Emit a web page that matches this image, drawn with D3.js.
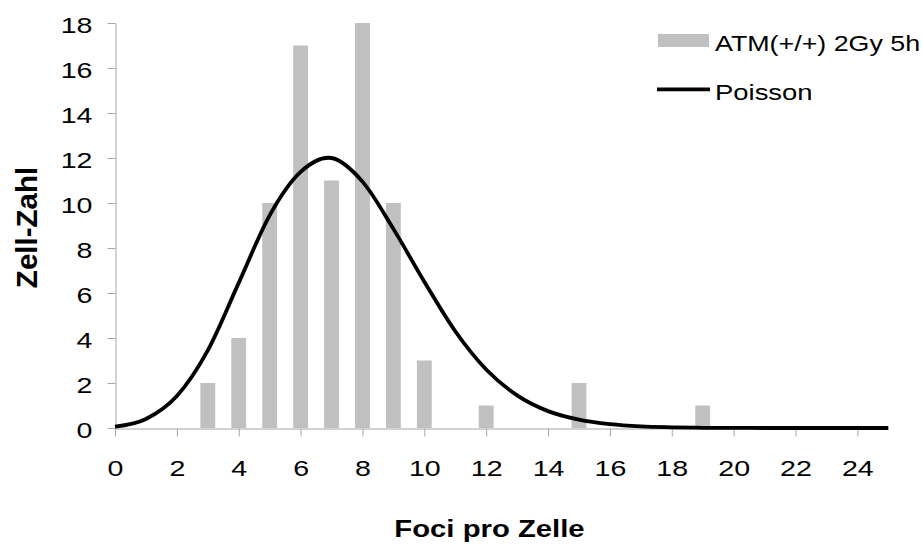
<!DOCTYPE html>
<html><head><meta charset="utf-8">
<script src="https://cdn.jsdelivr.net/npm/d3@7"></script>
<style>body{margin:0;background:#fff}svg{display:block}</style>
</head><body>
<svg id="chart" width="923" height="545"></svg>
<script>
// ---- data ----
const foci = [3, 4, 5, 6, 7, 8, 9, 10, 12, 15, 19];
const cellCounts = [2, 4, 10, 17, 11, 18, 10, 3, 1, 2, 1];
const poissonX = [0,1,2,3,4,5,6,7,8,9,10,11,12,13,14,15,16,17,18,19,20,21,22,23,24,25];
const poissonY = [0.06,0.40,1.42,3.45,6.45,9.45,11.38,12.0,10.95,8.85,6.5,4.3,2.6,1.45,0.75,0.37,0.17,0.07,0.03,0.01,0.004,0.001,0,0,0,0];
const xTickValues = [0,2,4,6,8,10,12,14,16,18,20,22,24];
const yTickValues = [0,2,4,6,8,10,12,14,16,18];
const seriesNames = ["ATM(+/+) 2Gy 5h", "Poisson"];
const xTitle = "Foci pro Zelle";
const yTitle = "Zell-Zahl";

// ---- layout ----
const FONT = "'Liberation Sans', Arial, sans-serif";
const svg = d3.select("#chart");
const x = d3.scaleLinear().domain([0, 25]).range([115, 888.3]);
const y = d3.scaleLinear().domain([0, 18]).range([428, 23]);
const axisColor = "#a6a6a6";
const barColor = "#c0c0c0";
const tickSX = 1.3;

// bars
const barW = x(0.48) - x(0);
svg.append("g").selectAll("rect")
  .data(foci.map((f, i) => ({f, v: cellCounts[i]})))
  .join("rect")
  .attr("x", d => x(d.f) - barW / 2)
  .attr("y", d => y(d.v))
  .attr("width", barW)
  .attr("height", d => y(0) - y(d.v))
  .attr("fill", barColor);

// y axis
const yAxis = svg.append("g")
  .attr("transform", `translate(${x(0) + 0.5},0)`)
  .call(d3.axisLeft(y).tickValues(yTickValues).tickFormat(d3.format("d")).tickSize(8).tickSizeOuter(0));
yAxis.select(".domain").attr("stroke", axisColor);
yAxis.selectAll(".tick line").attr("stroke", axisColor);
yAxis.selectAll(".tick text")
  .attr("x", -23 / tickSX)
  .attr("dy", "0.43em")
  .attr("transform", `scale(${tickSX},1)`)
  .attr("fill", "#000")
  .style("font-family", FONT).style("font-size", "22px");

// x axis
const xAxis = svg.append("g")
  .attr("transform", `translate(0,${y(0) + 0.5})`)
  .call(d3.axisBottom(x).tickValues(xTickValues).tickFormat(d3.format("d")).tickSize(8).tickSizeOuter(0));
xAxis.select(".domain").attr("stroke", axisColor);
xAxis.selectAll(".tick line").attr("stroke", axisColor);
xAxis.selectAll(".tick text")
  .attr("y", 47.5)
  .attr("dy", 0)
  .attr("transform", `scale(${tickSX},1)`)
  .attr("fill", "#000")
  .style("font-family", FONT).style("font-size", "22px");

// poisson curve
const line = d3.line()
  .x((d, i) => x(poissonX[i]))
  .y(d => y(d))
  .curve(d3.curveCardinal.tension(0));
svg.append("path")
  .datum(poissonY)
  .attr("d", line)
  .attr("fill", "none")
  .attr("stroke", "#000")
  .attr("stroke-width", 3.8)
  .attr("stroke-linejoin", "round");

// axis titles
const titleSX = 1.22;
svg.append("text")
  .attr("x", 489.5 / titleSX).attr("y", 536.7)
  .attr("transform", `scale(${titleSX},1)`)
  .attr("text-anchor", "middle")
  .style("font-family", FONT).style("font-size", "24px").style("font-weight", "bold")
  .text(xTitle);
svg.append("text")
  .attr("transform", "translate(36.5,227.5) rotate(-90)")
  .attr("text-anchor", "middle")
  .style("font-family", FONT).style("font-size", "29.5px").style("font-weight", "bold")
  .text(yTitle);

// legend
const legSX = 1.22;
const leg = svg.append("g");
leg.append("rect").attr("x", 658).attr("y", 34).attr("width", 51).attr("height", 13).attr("fill", barColor);
leg.append("text")
  .attr("x", 715 / legSX).attr("y", 50.7)
  .attr("transform", `scale(${legSX},1)`)
  .style("font-family", FONT).style("font-size", "22px")
  .text(seriesNames[0]);
leg.append("line").attr("x1", 657).attr("x2", 710).attr("y1", 89.3).attr("y2", 89.3)
  .attr("stroke", "#000").attr("stroke-width", 3.8);
leg.append("text")
  .attr("x", 715 / legSX).attr("y", 100)
  .attr("transform", `scale(${legSX},1)`)
  .style("font-family", FONT).style("font-size", "22.5px")
  .text(seriesNames[1]);
</script>
</body></html>
